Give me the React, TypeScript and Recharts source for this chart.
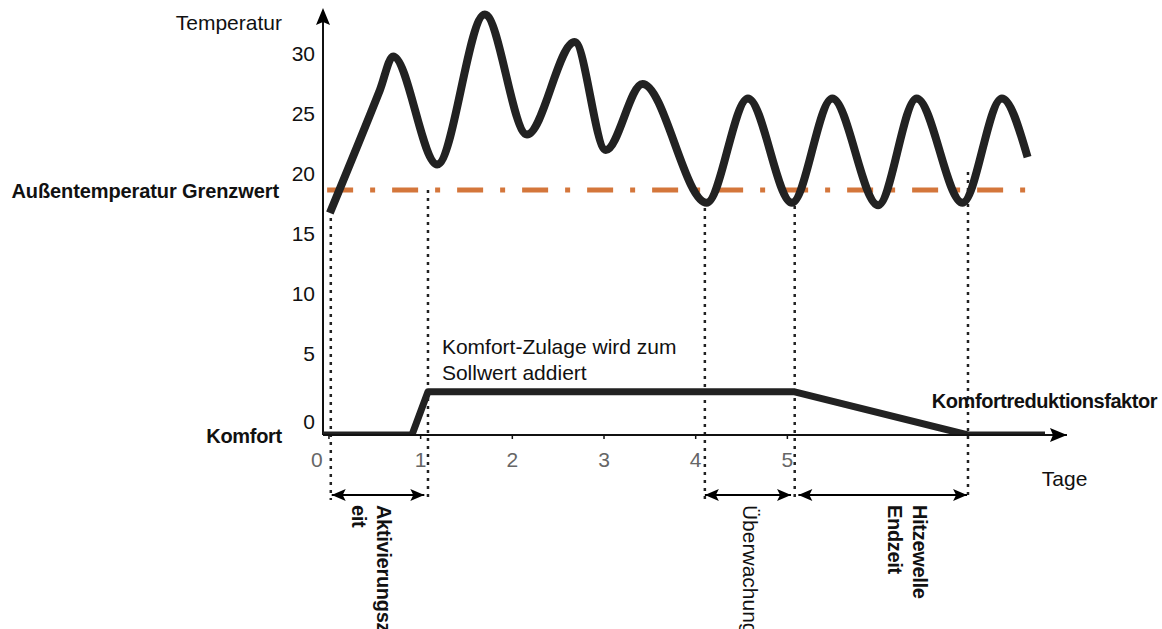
import React from 'react';
import { LineChart, Line, XAxis, YAxis, ReferenceLine, ReferenceDot } from 'recharts';

const FONT = '"Liberation Sans", Arial, sans-serif';

// Outdoor temperature curve (days, °C)
const tempDays = [0.01, 0.556, 0.7, 1.18, 1.7, 2.16, 2.68, 3.02, 3.42, 4.12, 4.57, 5.05, 5.49, 5.99, 6.41, 6.91, 7.34, 7.62];
const tempValues = [16.75, 27.0, 29.8, 20.8, 33.3, 23.3, 31.0, 22.0, 27.5, 17.6, 26.3, 17.6, 26.3, 17.4, 26.3, 17.6, 26.3, 21.4];

// Comfort allowance curve
const comfortDays = [-0.065, 0.905, 1.08, 5.08, 6.97, 7.81];
const comfortValues = [0, 0, 3.6, 3.6, 0, 0];

// Outdoor temperature threshold
const thresholdValue = 18.67;
const thresholdStart = -0.02;
const thresholdEnd = 7.62;

// Event markers (days) and where their dotted guide starts (°C)
const markerDays = [0.02, 1.08, 4.1, 5.08, 6.97];
const markerTops = [16.33, 18.67, 17.83, 18.0, 20.17];

// Interval arrows (start day, end day)
const intervalStarts = [0.03, 4.1, 5.12];
const intervalEnds = [1.04, 5.04, 6.96];

const xTicks = [0, 1, 2, 3, 4, 5];
const yTicks = [0, 5, 10, 15, 20, 25, 30];

const X_MIN = -0.065;
const X_MAX = 8.05;
const Y_MIN = -1.75;
const Y_MAX = 34.0833;
const GUIDE_BOTTOM = -7.17;
const ARROW_LEVEL = -6.75;
const Y_AXIS_W = 60;

const tempData = tempDays.map((d, i) => ({ d, v: tempValues[i] }));
const comfortData = comfortDays.map((d, i) => ({ d, v: comfortValues[i] }));

const INK = '#222';

function label(key: string, x: number, y: number, lines: string[], opts: any = {}) {
  const { anchor = 'start', bold = false, size = 21, rotate = false, lineGap = 26, fill = '#111', spacing = 0 } = opts;
  return (
    <ReferenceDot
      key={key}
      yAxisId="t"
      x={x}
      y={y}
      r={1}
      ifOverflow="visible"
      fill="none"
      stroke="none"
      shape={(p: any) => (
        <text
          x={p.cx}
          y={p.cy}
          textAnchor={anchor}
          fontFamily={FONT}
          fontSize={size}
          fontWeight={bold ? 'bold' : 'normal'}
          letterSpacing={spacing}
          fill={fill}
          transform={rotate ? `rotate(90 ${p.cx} ${p.cy})` : undefined}
        >
          {lines.map((t, i) => (
            <tspan key={i} x={p.cx} dy={i === 0 ? 0 : lineGap}>
              {t}
            </tspan>
          ))}
        </text>
      )}
    />
  );
}

function head(key: string, x: number, y: number, dir: 'left' | 'right' | 'up', len = 14, half = 6) {
  return (
    <ReferenceDot
      key={key}
      yAxisId="t"
      x={x}
      y={y}
      r={1}
      ifOverflow="visible"
      fill="none"
      stroke="none"
      shape={(p: any) => {
        const { cx, cy } = p;
        let pts = '';
        if (dir === 'left') pts = `${cx},${cy} ${cx + len},${cy - half} ${cx + len - 3},${cy} ${cx + len},${cy + half}`;
        if (dir === 'right') pts = `${cx},${cy} ${cx - len},${cy - half} ${cx - len + 3},${cy} ${cx - len},${cy + half}`;
        if (dir === 'up') pts = `${cx},${cy} ${cx - half},${cy + len} ${cx},${cy + len - 3} ${cx + half},${cy + len}`;
        return <polygon points={pts} fill="#000" />;
      }}
    />
  );
}

const XTick = (props: any) => {
  const { x, y, payload } = props;
  const shift = payload.value === 0 ? -12 : 0;
  return (
    <text x={x + shift} y={y} dy="0.71em" textAnchor="middle" fill="#666" fontSize={21} fontFamily={FONT}>
      {payload.value}
    </text>
  );
};

const YTick = (props: any) => {
  const { x, y, payload } = props;
  const drop = payload.value === 0 ? 8 : 0;
  return (
    <text x={x + Y_AXIS_W} y={y + drop} dy="0.355em" textAnchor="end" fill="#111" fontSize={21} fontFamily={FONT}>
      {payload.value}
    </text>
  );
};

export default function App() {
  return (
    <div style={{ position: 'absolute', left: 0, top: 0, width: 1162, height: 629, background: '#fff', overflow: 'hidden' }}>
      <LineChart width={1162} height={629} margin={{ top: 5, right: 95, bottom: 164, left: 263 }}>
        <XAxis
          type="number"
          dataKey="d"
          domain={[X_MIN, X_MAX]}
          ticks={xTicks}
          height={30}
          axisLine={{ stroke: '#111', strokeWidth: 2 }}
          tickLine={{ stroke: '#111', strokeWidth: 1.5 }}
          tickSize={4}
          tickMargin={13}
          tick={<XTick />}
          allowDataOverflow
        />
        <YAxis
          yAxisId="t"
          type="number"
          domain={[Y_MIN, Y_MAX]}
          ticks={yTicks}
          width={Y_AXIS_W}
          axisLine={false}
          tickLine={false}
          tickSize={0}
          tickMargin={8}
          tick={<YTick />}
          allowDataOverflow
        />
        <YAxis yAxisId="k" type="number" domain={[0, Y_MAX - Y_MIN]} hide allowDataOverflow />

        {/* y axis with arrow */}
        <ReferenceLine
          yAxisId="t"
          segment={[{ x: X_MIN, y: Y_MIN }, { x: X_MIN, y: 33.2 }]}
          stroke="#111"
          strokeWidth={2}
          ifOverflow="visible"
        />
        {head('yArrow', X_MIN, 33.83, 'up', 17, 7)}
        {head('xArrow', X_MAX, Y_MIN, 'right', 17, 7)}

        {/* threshold */}
        <ReferenceLine
          yAxisId="t"
          segment={[{ x: thresholdStart, y: thresholdValue }, { x: thresholdEnd, y: thresholdValue }]}
          stroke="#D4763B"
          strokeWidth={5}
          strokeDasharray="26 17 5 17"
          ifOverflow="visible"
        />

        {/* dotted event guides */}
        {markerDays.map((d, i) => (
          <ReferenceLine
            key={`g${i}`}
            yAxisId="t"
            segment={[{ x: d, y: markerTops[i] }, { x: d, y: GUIDE_BOTTOM }]}
            stroke={INK}
            strokeWidth={2.5}
            strokeDasharray="3 5"
            ifOverflow="visible"
          />
        ))}

        {/* interval arrows */}
        {intervalStarts.map((s, i) => (
          <ReferenceLine
            key={`a${i}`}
            yAxisId="t"
            segment={[{ x: s, y: ARROW_LEVEL }, { x: intervalEnds[i], y: ARROW_LEVEL }]}
            stroke="#000"
            strokeWidth={2}
            ifOverflow="visible"
          />
        ))}
        {intervalStarts.map((s, i) => head(`hl${i}`, s, ARROW_LEVEL, 'left'))}
        {intervalEnds.map((e, i) => head(`hr${i}`, e, ARROW_LEVEL, 'right'))}

        <Line
          yAxisId="k"
          data={comfortData}
          dataKey="v"
          type="linear"
          stroke={INK}
          strokeWidth={7}
          strokeLinejoin="round"
          dot={false}
          activeDot={false}
          isAnimationActive={false}
        />
        <Line
          yAxisId="t"
          data={tempData}
          dataKey="v"
          type="monotone"
          stroke={INK}
          strokeWidth={8}
          strokeLinejoin="round"
          dot={false}
          activeDot={false}
          isAnimationActive={false}
        />

        {/* annotations */}
        {label('temp', -0.5125, 32.0, ['Temperatur'], { anchor: 'end', size: 21 })}
        {label('grenz', -0.545, 18.0, ['Außentemperatur Grenzwert'], { anchor: 'end', bold: true, size: 20, spacing: -0.1 })}
        {label('komf', -0.5125, -2.42, ['Komfort'], { anchor: 'end', bold: true, size: 20, spacing: -0.3 })}
        {label('red', 6.576, 0.5, ['Komfortreduktionsfaktor'], { bold: true, size: 20, spacing: -0.45 })}
        {label('zul', 1.232, 5.0, ['Komfort-Zulage wird zum', 'Sollwert addiert'], { size: 21, lineGap: 26 })}
        {label('tage', 7.775, -6.0, ['Tage'], { size: 21 })}
        {label('akt', 0.523, -7.58, ['Aktivierungsz', 'eit'], { bold: true, size: 20, rotate: true, lineGap: 25, spacing: -0.3 })}
        {label('ueb', 4.515, -7.58, ['Überwachung'], { size: 21, rotate: true })}
        {label('hitz', 6.369, -7.58, ['Hitzewelle', 'Endzeit'], { bold: true, size: 20, rotate: true, lineGap: 25, spacing: -0.3 })}
      </LineChart>
    </div>
  );
}
